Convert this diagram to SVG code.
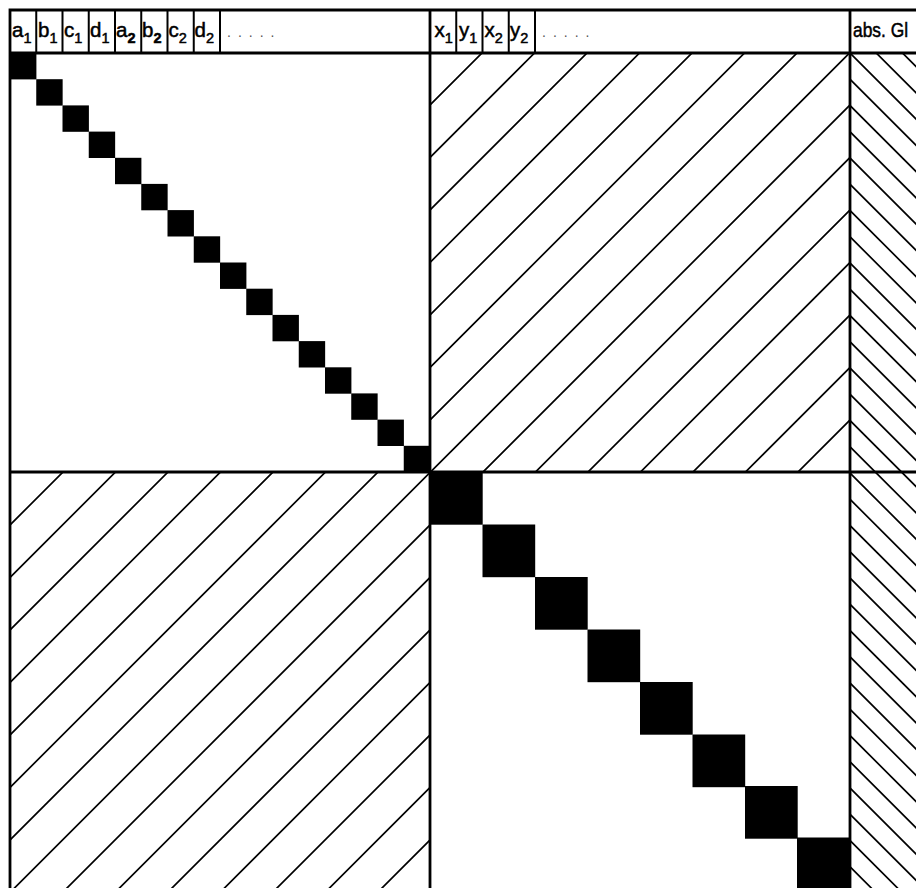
<svg xmlns="http://www.w3.org/2000/svg" width="916" height="888" viewBox="0 0 916 888">
<style>
.frame{stroke:#000;stroke-width:2.8;fill:none;stroke-linecap:square}
.cell{stroke:#000;stroke-width:2;fill:none}
.hatch{stroke:#000;stroke-width:1.7;fill:none}
.blk{fill:#000}
.lbl{font-family:"Liberation Sans",Arial,sans-serif;font-size:20.5px;fill:#000;stroke:#000;stroke-width:0.5}
.sub{font-size:14.5px}
.dots{font-family:"Liberation Sans",Arial,sans-serif;font-size:14px;fill:#555;letter-spacing:7px}
</style>
<defs>
<clipPath id="clipSlash">
<rect x="430" y="53" width="420" height="419"/>
<rect x="10" y="472" width="420" height="420"/>
</clipPath>
<clipPath id="clipBack">
<rect x="850" y="53" width="70" height="840"/>
</clipPath>
</defs>
<rect width="916" height="888" fill="#fff"/>

<g id="hatching">
<path class="hatch" clip-path="url(#clipSlash)" d="M495 40L-365 900M547.5 40L-312.5 900M600 40L-260 900M652.5 40L-207.5 900M705 40L-155 900M757.5 40L-102.5 900M810 40L-50 900M862.5 40L2.5 900M915 40L55 900M967.5 40L107.5 900M1020 40L160 900M1072.5 40L212.5 900M1125 40L265 900M1177.5 40L317.5 900M1230 40L370 900"/>
<path class="hatch" clip-path="url(#clipBack)" d="M840 -9.5L930 80.5M840 16.75L930 106.75M840 43L930 133M840 69.25L930 159.25M840 95.5L930 185.5M840 121.75L930 211.75M840 148L930 238M840 174.25L930 264.25M840 200.5L930 290.5M840 226.75L930 316.75M840 253L930 343M840 279.25L930 369.25M840 305.5L930 395.5M840 331.75L930 421.75M840 358L930 448M840 384.25L930 474.25M840 410.5L930 500.5M840 436.75L930 526.75M840 463L930 553M840 489.25L930 579.25M840 515.5L930 605.5M840 541.75L930 631.75M840 568L930 658M840 594.25L930 684.25M840 620.5L930 710.5M840 646.75L930 736.75M840 673L930 763M840 699.25L930 789.25M840 725.5L930 815.5M840 751.75L930 841.75M840 778L930 868M840 804.25L930 894.25M840 830.5L930 920.5M840 856.75L930 946.75"/>
</g>

<g id="diag-small">
<rect class="blk" x="10" y="53" width="26.4" height="26.4"/>
<rect class="blk" x="36.25" y="79.2" width="26.4" height="26.4"/>
<rect class="blk" x="62.5" y="105.4" width="26.4" height="26.4"/>
<rect class="blk" x="88.75" y="131.6" width="26.4" height="26.4"/>
<rect class="blk" x="115" y="157.8" width="26.4" height="26.4"/>
<rect class="blk" x="141.25" y="183.9" width="26.4" height="26.4"/>
<rect class="blk" x="167.5" y="210.1" width="26.4" height="26.4"/>
<rect class="blk" x="193.75" y="236.3" width="26.4" height="26.4"/>
<rect class="blk" x="220" y="262.5" width="26.4" height="26.4"/>
<rect class="blk" x="246.25" y="288.7" width="26.4" height="26.4"/>
<rect class="blk" x="272.5" y="314.9" width="26.4" height="26.4"/>
<rect class="blk" x="298.75" y="341.1" width="26.4" height="26.4"/>
<rect class="blk" x="325" y="367.3" width="26.4" height="26.4"/>
<rect class="blk" x="351.25" y="393.4" width="26.4" height="26.4"/>
<rect class="blk" x="377.5" y="419.6" width="26.4" height="26.4"/>
<rect class="blk" x="403.75" y="445.8" width="26.25" height="26.2"/>
</g>

<g id="diag-large">
<rect class="blk" x="430" y="472" width="52.7" height="52.7"/>
<rect class="blk" x="482.5" y="524.5" width="52.7" height="52.7"/>
<rect class="blk" x="535" y="577" width="52.7" height="52.7"/>
<rect class="blk" x="587.5" y="629.5" width="52.7" height="52.7"/>
<rect class="blk" x="640" y="682" width="52.7" height="52.7"/>
<rect class="blk" x="692.5" y="734.5" width="52.7" height="52.7"/>
<rect class="blk" x="745" y="786" width="52.7" height="52.7"/>
<rect class="blk" x="797" y="837.5" width="53" height="55"/>
</g>

<g id="frame">
<path class="frame" d="M10 10H920M10 53H920M10 472H920M10 10V892M430 10V892M850 10V892"/>
<path class="cell" d="M36.25 10V53M62.5 10V53M88.75 10V53M115 10V53M141.25 10V53M167.5 10V53M193.75 10V53M220 10V53M456.25 10V53M482.5 10V53M508.75 10V53M535 10V53"/>
</g>

<g id="header-labels">
<text class="lbl" x="12" y="37">a<tspan class="sub" dy="6">1</tspan></text>
<text class="lbl" x="38" y="37">b<tspan class="sub" dy="6">1</tspan></text>
<text class="lbl" x="64" y="37">c<tspan class="sub" dy="6">1</tspan></text>
<text class="lbl" x="90" y="37">d<tspan class="sub" dy="6">1</tspan></text>
<text class="lbl" x="116" y="37">a<tspan class="sub" dy="6" font-weight="bold">2</tspan></text>
<text class="lbl" x="142" y="37">b<tspan class="sub" dy="6" font-weight="bold">2</tspan></text>
<text class="lbl" x="168.5" y="37">c<tspan class="sub" dy="6">2</tspan></text>
<text class="lbl" x="194.5" y="37">d<tspan class="sub" dy="6">2</tspan></text>
<text class="dots" x="227" y="37">.....</text>
<text class="lbl" x="434.5" y="37">x<tspan class="sub" dy="6">1</tspan></text>
<text class="lbl" x="459" y="37">y<tspan class="sub" dy="6">1</tspan></text>
<text class="lbl" x="484.5" y="37">x<tspan class="sub" dy="6">2</tspan></text>
<text class="lbl" x="510" y="37">y<tspan class="sub" dy="6">2</tspan></text>
<text class="dots" x="542" y="37">.....</text>
<text class="lbl" x="853" y="37" font-size="18.5" textLength="55" lengthAdjust="spacingAndGlyphs">abs. Gl</text>
</g>
</svg>
